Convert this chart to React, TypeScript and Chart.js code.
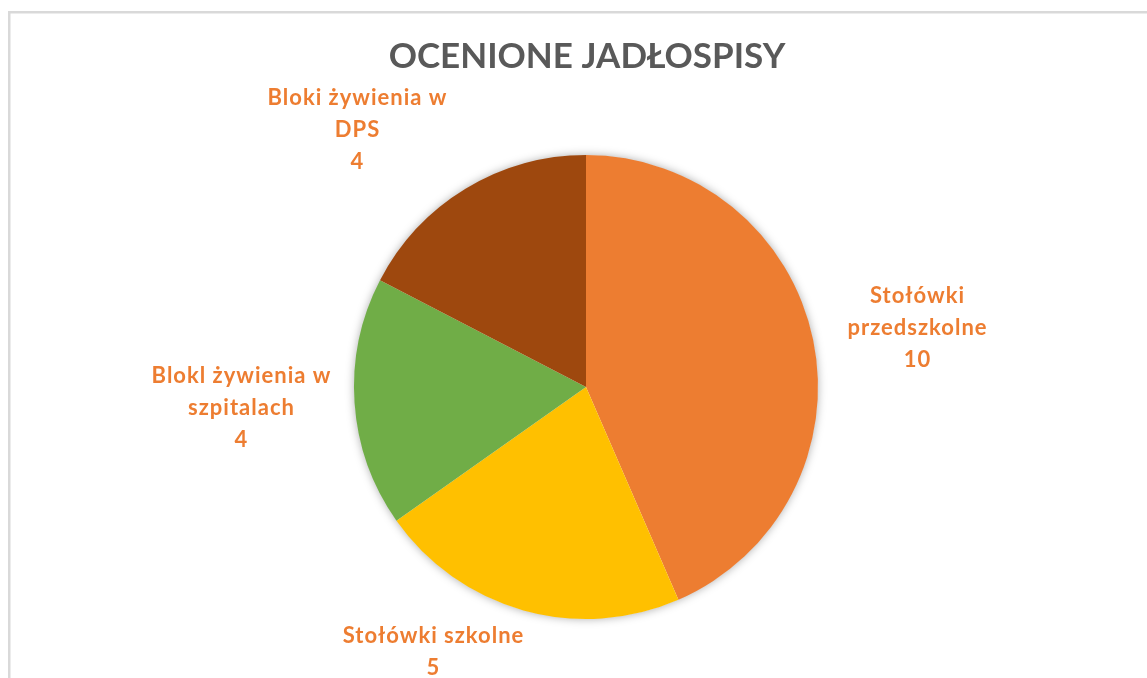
import React, { useEffect, useRef } from "react";
import { Chart, registerables } from "chart.js";

Chart.register(...registerables);

const TITLE = "OCENIONE JADŁOSPISY";
const categories = [
  "Stołówki przedszkolne",
  "Stołówki szkolne",
  "Blokl żywienia w szpitalach",
  "Bloki żywienia w DPS",
];
const values = [10, 5, 4, 4];
const labelLines = [
  ["Stołówki", "przedszkolne", "10"],
  ["Stołówki szkolne", "5"],
  ["Blokl żywienia w", "szpitalach", "4"],
  ["Bloki żywienia w", "DPS", "4"],
];
const colors = ["#ED7D31", "#FFC000", "#70AD47", "#9E480E"];

// label block anchors relative to pie center (x center, first baseline)
const LABEL_OFFSETS = [
  [331, -84],
  [-153, 256],
  [-345, -4],
  [-229, -282],
];
const LINE_STEP = 32;

const decorPlugin = {
  id: "decor",
  beforeDatasetsDraw(chart: any) {
    const meta = chart.getDatasetMeta(0);
    const a = meta.data[0];
    if (!a) return;
    const ctx = chart.ctx;
    ctx.save();
    ctx.shadowColor = "rgba(0,0,0,0.35)";
    ctx.shadowBlur = 10;
    ctx.shadowOffsetX = 0;
    ctx.shadowOffsetY = 0;
    ctx.fillStyle = "#ffffff";
    ctx.beginPath();
    ctx.arc(a.x, a.y, a.outerRadius - 0.5, 0, Math.PI * 2);
    ctx.fill();
    ctx.restore();
  },
  afterDraw(chart: any) {
    const ctx = chart.ctx;
    const meta = chart.getDatasetMeta(0);
    const a = meta.data[0];
    ctx.save();
    // frame
    ctx.fillStyle = "#d9d9d9";
    ctx.fillRect(8, 11, 1147, 2.5);
    ctx.fillRect(8, 11, 2.5, 700);
    // title
    ctx.fillStyle = "#595959";
    ctx.font = "bold 35px Lato";
    ctx.textAlign = "center";
    ctx.textBaseline = "alphabetic";
    ctx.fillText(TITLE, 587, 68);
    // labels
    ctx.fillStyle = "#ED7D31";
    ctx.font = "bold 22px Lato";
    (ctx as any).letterSpacing = "1px";
    labelLines.forEach((lines, i) => {
      const [dx, dy] = LABEL_OFFSETS[i];
      lines.forEach((t, j) => {
        ctx.fillText(t, a.x + dx + 0.5, a.y + dy + j * LINE_STEP);
      });
    });
    ctx.restore();
  },
};

export default function App() {
  const ref = useRef<HTMLCanvasElement>(null);
  useEffect(() => {
    if (!ref.current) return;
    const chart = new Chart(ref.current, {
      type: "pie",
      data: {
        labels: categories,
        datasets: [
          {
            data: values,
            backgroundColor: colors,
            borderWidth: 0,
          },
        ],
      },
      options: {
        animation: false,
        responsive: false,
        layout: { padding: { left: 354, right: 329, top: 155, bottom: 59 } },
        plugins: {
          legend: { display: false },
          tooltip: { enabled: false },
          title: { display: false },
        },
      },
      plugins: [decorPlugin],
    });
    return () => chart.destroy();
  }, []);
  return (
    <div style={{ position: "fixed", left: 0, top: 0, width: 1147, height: 678, background: "#fff" }}>
      <canvas ref={ref} width={1147} height={678} style={{ width: 1147, height: 678 }} />
    </div>
  );
}
